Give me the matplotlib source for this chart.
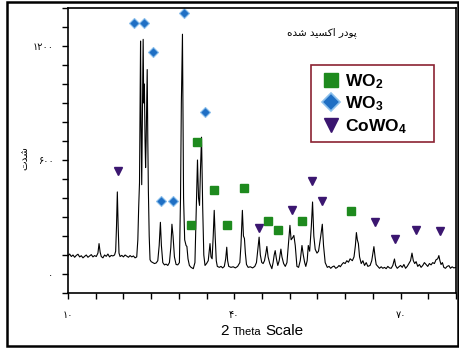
import matplotlib
matplotlib.use("Agg")
import matplotlib.pyplot as plt
from matplotlib.lines import Line2D
from matplotlib.patches import Rectangle
from matplotlib.offsetbox import TextArea, HPacker, AnnotationBbox

# XRD trace (2 theta, intensity)
two_theta = [10.0, 10.3, 10.6, 10.9, 11.2, 11.5, 11.8, 12.1, 12.4, 12.7, 13.0, 13.3, 13.6, 13.9,
             14.2, 14.5, 14.8, 15.1, 15.4, 15.6, 15.8, 16.0, 16.3, 16.6, 16.9, 17.2, 17.5, 17.8,
             18.1, 18.4, 18.6, 18.75, 18.9, 19.05, 19.2, 19.4, 19.7, 20.0, 20.3, 20.6, 20.9, 21.2,
             21.5, 21.8, 22.1, 22.4, 22.6, 22.75, 22.9, 23.0, 23.09, 23.18, 23.3, 23.42, 23.56,
             23.66, 23.78, 23.9, 24.0, 24.1, 24.29, 24.4, 24.5, 24.65, 24.8, 25.0, 25.3, 25.6,
             25.9, 26.2, 26.45, 26.67, 26.85, 27.1, 27.4, 27.7, 28.0, 28.3, 28.55, 28.75, 28.95,
             29.2, 29.5, 29.8, 30.1, 30.3, 30.45, 30.65, 30.85, 31.05, 31.3, 31.45, 31.65, 31.9,
             32.2, 32.6, 32.9, 33.1, 33.36, 33.55, 33.73, 33.9, 34.09, 34.3, 34.5, 34.72, 35.0,
             35.3, 35.62, 35.8, 36.0, 36.2, 36.38, 36.55, 36.75, 36.94, 37.3, 37.6, 37.9, 38.2,
             38.45, 38.64, 38.8, 39.0, 39.4, 39.8, 40.2, 40.6, 41.0, 41.2, 41.46, 41.65, 41.83,
             42.0, 42.2, 42.5, 42.9, 43.3, 43.7, 44.0, 44.25, 44.48, 44.7, 44.95, 45.2, 45.45,
             45.7, 45.88, 46.1, 46.4, 46.78, 47.0, 47.2, 47.38, 47.6, 47.85, 48.1, 48.41, 48.6,
             48.9, 49.2, 49.5, 49.75, 50.04, 50.25, 50.5, 50.75, 51.0, 51.3, 51.6, 51.9, 52.21,
             52.45, 52.7, 52.9, 53.15, 53.35, 53.6, 53.9, 54.12, 54.35, 54.6, 54.92, 55.2, 55.6,
             55.88, 56.1, 56.4, 56.78, 57.1, 57.4, 57.7, 58.0, 58.3, 58.6, 58.9, 59.13, 59.4,
             59.7, 60.0, 60.3, 60.6, 60.9, 61.3, 61.6, 61.85, 62.03, 62.2, 62.39, 62.6, 62.9,
             63.2, 63.5, 63.8, 64.1, 64.5, 64.8, 65.0, 65.19, 65.4, 65.6, 65.9, 66.2, 66.5, 66.8,
             67.1, 67.4, 67.7, 68.0, 68.3, 68.6, 68.9, 69.1, 69.4, 69.7, 70.0, 70.3, 70.6, 70.9,
             71.2, 71.5, 71.8, 72.06, 72.3, 72.55, 72.8, 73.1, 73.4, 73.7, 74.0, 74.3, 74.6,
             74.9, 75.2, 75.5, 75.8, 76.1, 76.4, 76.7, 76.91, 77.1, 77.3, 77.55, 77.8, 78.1,
             78.4, 78.72, 79.0, 79.3, 79.6, 80.0]
intensity = [95, 105, 92, 100, 88, 98, 104, 90, 96, 85, 93, 100, 88, 95,
             102, 90, 97, 92, 110, 160, 115, 92, 85, 100, 93, 105, 90, 98,
             95, 100, 120, 250, 432, 250, 110, 92, 98, 90, 100, 94, 88, 97,
             90, 95, 85, 90, 180, 350, 480, 900, 1226, 800, 470, 820, 1235,
             900, 1000, 700, 560, 700, 1076, 700, 440, 200, 75, 65, 60, 55,
             58, 70, 150, 272, 150, 60, 48, 52, 45, 60, 140, 262, 200,
             90, 50, 48, 60, 400, 900, 1262, 400, 180, 150, 145, 80, 45,
             35, 28, 60, 300, 600, 400, 361, 550, 720, 350, 100, 45, 55,
             70, 160, 90, 80, 200, 335, 200, 70, 40, 35, 40, 32, 40,
             80, 141, 70, 40, 35, 38, 32, 40, 60, 150, 335, 200, 187,
             110, 50, 35, 38, 32, 40, 60, 130, 194, 100, 61, 55, 70,
             110, 145, 90, 55, 28, 60, 100, 123, 80, 45, 70, 131, 90,
             55, 40, 60, 150, 256, 180, 190, 203, 150, 40, 35, 70, 150,
             100, 60, 40, 70, 150, 120, 250, 379, 200, 130, 110, 120, 200,
             262, 150, 60, 35, 40, 30, 38, 42, 30, 35, 45, 38, 50,
             60, 55, 70, 62, 80, 70, 90, 150, 218, 180, 160, 90, 55,
             70, 45, 60, 40, 45, 70, 110, 144, 90, 50, 40, 30, 38, 30,
             35, 28, 40, 32, 30, 45, 79, 45, 30, 38, 45, 35, 50, 30,
             40, 55, 70, 110, 70, 55, 65, 40, 50, 35, 45, 60, 50,
             40, 55, 48, 60, 55, 75, 80, 97, 70, 50, 60, 35, 30,
             40, 44, 30, 38, 32, 35]

# phase markers
wo2_x = [32.19, 33.22, 36.4, 38.64, 41.7, 46.17, 47.8, 52.2, 61.07]
wo2_y = [259, 697, 441, 256, 455, 279, 229, 279, 331]
wo3_x = [21.88, 23.74, 25.37, 26.76, 28.99, 30.98, 34.72]
wo3_y = [1323, 1323, 1166, 383, 383, 1376, 855]
cowo4_x = [19.04, 44.48, 50.4, 54.0, 55.8, 65.4, 69.0, 72.7, 77.16]
cowo4_y = [543, 243, 335, 490, 384, 273, 185, 233, 224]

x_ticks = [10, 40, 70]
x_tick_labels = ['۱۰', '۴۰', '۷۰']
y_ticks = [0, 600, 1200]
y_tick_labels = ['۰', '۶۰۰', '۱۲۰۰']

# Persian text, pre-shaped (presentation forms, visual order)
title_txt = '\uFEE9\uFEAA\uFEB7 \uFEAA\uFBFF\uFEB4\uFB90\uFE8D \uFEAD\uFEA9\uFEEE\uFB58'
ylabel_txt = '\uFE95\uFEAA\uFEB7'

plt.rcParams['mathtext.fontset'] = 'custom'
plt.rcParams['mathtext.rm'] = 'Liberation Sans'
plt.rcParams['mathtext.bf'] = 'Liberation Sans:bold'
plt.rcParams['mathtext.default'] = 'bf'

fig = plt.figure(figsize=(4.59, 3.5), dpi=100)
ax = fig.add_axes([68/459, 1-293/350, (456-68)/459, (293-8)/350])

ax.plot(two_theta, intensity, color='black', lw=0.8)

ax.plot(wo2_x, wo2_y, ls='none', marker='s', ms=5.5, color='#1e8a1e', mec='#1e8a1e')
ax.plot(wo3_x, wo3_y, ls='none', marker='D', ms=5, color='#1f6fc4', mec='#8cc0ec', mew=0.8)
ax.plot(cowo4_x, cowo4_y, ls='none', marker='v', ms=6, color='#3b1670', mec='#3b1670')

ax.set_xlim(10, 80)
ax.set_ylim(-100, 1400)
ax.set_xticks(range(10, 81, 5), minor=True)
ax.set_xticks(x_ticks)
ax.set_xticklabels(x_tick_labels, fontsize=7, family='DejaVu Sans')
ax.set_yticks(range(-100, 1401, 100), minor=True)
ax.set_yticks(y_ticks)
ax.set_yticklabels(y_tick_labels, fontsize=7, family='DejaVu Sans')
ax.tick_params(which='both', direction='out', length=4.5, width=1)
ax.tick_params(axis='y', pad=6)
ax.tick_params(axis='x', pad=8)
for sp in ax.spines.values():
    sp.set_linewidth(1.2)

ax.text(322/459, 1-33/350, title_txt, transform=fig.transFigure, fontsize=7.5,
        family='DejaVu Sans', ha='center', va='center')
fig.text(24/459, 1-158/350, ylabel_txt, rotation=90, fontsize=7.5,
         family='DejaVu Sans', ha='center', va='center')

# x label with smaller "Theta"
parts = [TextArea('2', textprops=dict(fontsize=11, family='Liberation Sans')),
         TextArea('Theta', textprops=dict(fontsize=8, family='Liberation Sans')),
         TextArea('Scale', textprops=dict(fontsize=11, family='Liberation Sans'))]
pack = HPacker(children=parts, align='baseline', pad=0, sep=3)
fig.add_artist(AnnotationBbox(pack, (262/459, 1-331/350), xycoords='figure fraction',
                              frameon=False, box_alignment=(0.5, 0.5)))

# legend: entries without frame, box drawn separately (wide right margin in the original)
handles = [Line2D([], [], ls='none', marker='s', ms=10.5, color='#1e8a1e'),
           Line2D([], [], ls='none', marker='D', ms=9.5, color='#1f6fc4', mec='#8cc0ec', mew=1.2),
           Line2D([], [], ls='none', marker='v', ms=10.5, color='#3b1670')]
labels = ['WO$_2$', 'WO$_3$', 'CoWO$_4$']
ax.legend(handles, labels, loc='upper left', bbox_to_anchor=(322/459, 1-72/350),
          bbox_transform=fig.transFigure, borderaxespad=0, borderpad=0,
          prop=dict(family='Liberation Sans', size=12.5, weight='bold'),
          handlelength=1.0, handletextpad=0.3, labelspacing=0.22, frameon=False)
fig.add_artist(Rectangle((311/459, 1-142/350), (434-311)/459, (142-65)/350,
                         transform=fig.transFigure, fill=False, ec='#8b2332', lw=1.2))

fig.add_artist(Rectangle((7/459, 1-346/350), (458-7)/459, (346-2)/350,
                         transform=fig.transFigure, fill=False, ec='black', lw=1.8))

fig.savefig('out.png', dpi=100)
